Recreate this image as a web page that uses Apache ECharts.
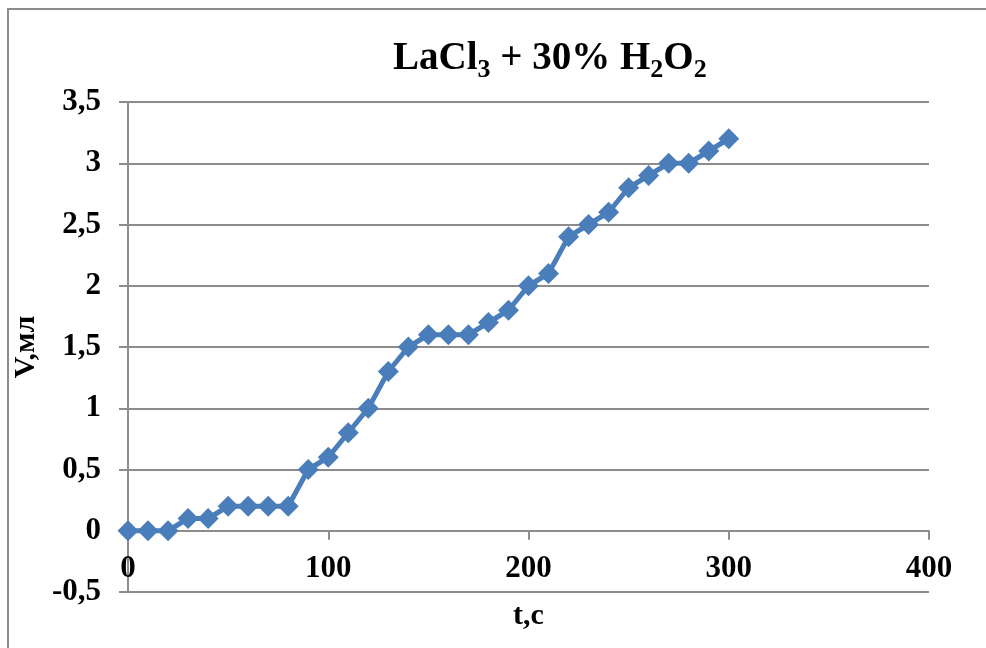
<!DOCTYPE html>
<html>
<head>
<meta charset="utf-8">
<script src="https://cdn.jsdelivr.net/npm/echarts@6/dist/echarts.min.js"></script>
<style>
  html, body { margin: 0; padding: 0; background: #fff; }
  #chart { width: 986px; height: 648px; }
</style>
</head>
<body>
<div id="chart"></div>
<script>
const times = [0, 10, 20, 30, 40, 50, 60, 70, 80, 90, 100, 110, 120, 130, 140, 150,
  160, 170, 180, 190, 200, 210, 220, 230, 240, 250, 260, 270, 280, 290, 300]
const volumes = [0, 0, 0, 0.1, 0.1, 0.2, 0.2, 0.2, 0.2, 0.5, 0.6, 0.8, 1.0, 1.3, 1.5, 1.6,
  1.6, 1.6, 1.7, 1.8, 2.0, 2.1, 2.4, 2.5, 2.6, 2.8, 2.9, 3.0, 3.0, 3.1, 3.2]
const titleText = 'LaCl{sub|3} + 30% H{sub|2}O{sub|2}'
const xName = 't,c'
const yName = 'V,мл'

const font = 'Liberation Serif'
const lineColor = '#4a7ebb'
const gridColor = '#8c8c8c'

// plot box
const gridTop = 102
const gridBottom = 56
const gridHeight = 648 - gridTop - gridBottom
const yMin = -0.5
const yMax = 3.5

const chart = echarts.init(document.getElementById('chart'))

const points = []
times.forEach(function(t, i) {
  points.push([t, volumes[i]])
})

// x axis sits at y = 0, shift it up from the bottom edge
const xOffset = -gridHeight * (0 - yMin) / (yMax - yMin)

chart.setOption({
  backgroundColor: '#FFFFFF',
  animation: false,
  graphic: [{
    type: 'rect',
    shape: { x: 8, y: 9, width: 1000, height: 700 },
    style: { fill: 'none', stroke: gridColor, lineWidth: 2 },
    silent: true
  }],
  title: {
    text: titleText,
    left: 388,
    top: 30,
    textStyle: {
      fontFamily: font,
      fontWeight: 'bold',
      fontSize: 39,
      color: '#000',
      lineHeight: 48,
      verticalAlign: 'middle',
      rich: {
        sub: {
          fontFamily: font,
          fontWeight: 'bold',
          fontSize: 26,
          color: '#000',
          lineHeight: 48,
          verticalAlign: 'bottom'
        }
      }
    }
  },
  grid: {
    left: 128,
    right: 57,
    top: gridTop,
    bottom: gridBottom,
    containLabel: false,
    outerBoundsMode: 'none'
  },
  xAxis: {
    type: 'value',
    min: 0,
    max: 400,
    interval: 100,
    position: 'bottom',
    offset: xOffset,
    name: xName,
    nameLocation: 'middle',
    nameGap: 70,
    nameTextStyle: {
      fontFamily: font,
      fontWeight: 'bold',
      fontSize: 30,
      color: '#000'
    },
    axisLine: {
      show: true,
      onZero: false,
      lineStyle: { color: gridColor, width: 2 }
    },
    axisTick: {
      show: true,
      inside: false,
      length: 9,
      lineStyle: { color: gridColor, width: 2 }
    },
    axisLabel: {
      margin: 23,
      fontFamily: font,
      fontWeight: 'bold',
      fontSize: 31,
      color: '#000'
    },
    splitLine: { show: false }
  },
  yAxis: {
    type: 'value',
    min: yMin,
    max: yMax,
    interval: 0.5,
    name: yName,
    nameLocation: 'middle',
    nameGap: 83,
    nameRotate: 90,
    nameTextStyle: {
      fontFamily: font,
      fontWeight: 'bold',
      fontSize: 30,
      color: '#000'
    },
    axisLine: {
      show: true,
      onZero: false,
      lineStyle: { color: gridColor, width: 2 }
    },
    axisTick: {
      show: true,
      inside: false,
      length: 9,
      lineStyle: { color: gridColor, width: 2 }
    },
    axisLabel: {
      margin: 27,
      fontFamily: font,
      fontWeight: 'bold',
      fontSize: 31,
      color: '#000',
      formatter(v) {
        return String(v).replace('.', ',')
      }
    },
    splitLine: {
      show: true,
      lineStyle: { color: gridColor, width: 2 }
    }
  },
  series: [{
    type: 'line',
    data: points,
    symbol: 'diamond',
    symbolSize: 21,
    lineStyle: { color: lineColor, width: 5 },
    itemStyle: { color: lineColor }
  }]
})
</script>
</body>
</html>
